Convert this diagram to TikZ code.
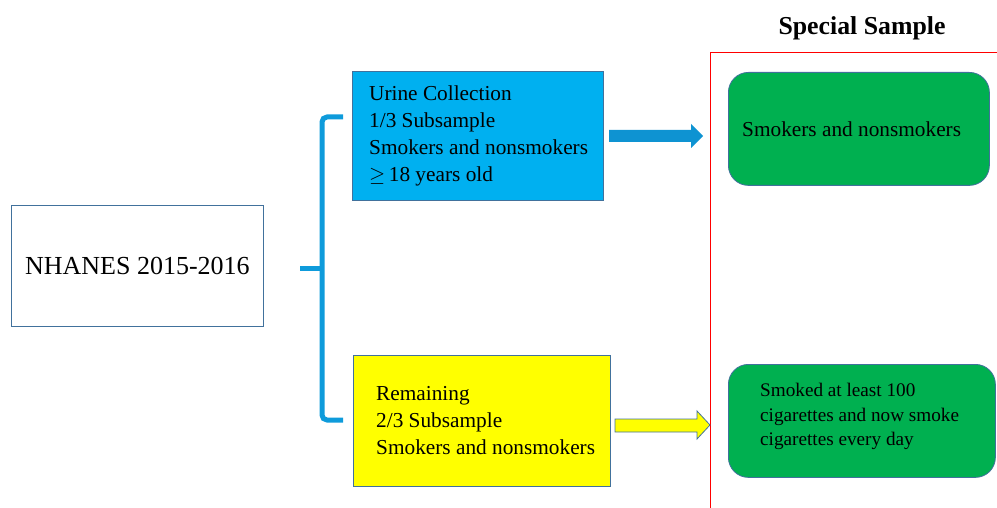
\documentclass[tikz,border=0pt]{standalone}
\usepackage{fontspec}
\setmainfont{Liberation Serif}
\begin{document}
\begin{tikzpicture}[x=1pt,y=-1pt,
  boxborder/.style={draw=boxline, line width=0.8pt},
  boxshape/.style={boxborder, anchor=north west, inner sep=0pt},
  boxtext/.style={anchor=west, align=left, inner sep=0pt, font=\fontsize{21.3}{27}\selectfont},
  bracestyle/.style={draw=bracecol, line width=5pt, rounded corners=5pt},
]
\definecolor{boxline}{HTML}{41719C}
\definecolor{bluefill}{HTML}{00B0F0}
\definecolor{bracecol}{HTML}{0E9BDB}
\definecolor{arrowblue}{HTML}{0E93D2}
\definecolor{greenfill}{HTML}{00B050}
\definecolor{yellowfill}{HTML}{FFFF00}
\useasboundingbox (0,0) rectangle (997,508);

% NHANES box
\node[boxshape, minimum width=252, minimum height=121,
      font=\fontsize{26}{30}\selectfont] (nh) at (11,205) {NHANES 2015-2016};

% blue box
\node[boxshape, fill=bluefill, minimum width=251, minimum height=129] (urine) at (352,71) {};
\node[boxtext] (urinetxt) at ([xshift=17pt]urine.west)
  {Urine Collection\\1/3 Subsample\\Smokers and nonsmokers\\$\geq$\,18 years old};

% yellow box
\node[boxshape, fill=yellowfill, minimum width=257, minimum height=131] (rem) at (353,355) {};
\node[boxtext] (remtxt) at ([xshift=23pt]rem.west)
  {Remaining\\2/3 Subsample\\Smokers and nonsmokers};

% brace
\coordinate (bt) at (343,117);
\coordinate (bb) at (343,420);
\coordinate (bm) at (300,268);
\draw[bracestyle] (bt) -- (322,117) -- (322,420) -- (bb);
\draw[draw=bracecol, line width=5pt] (bm) -- (323,268);

% red frame
\coordinate (rtop) at (997,52);
\coordinate (rcorner) at (710,52);
\coordinate (rbot) at (710,508);
\draw[red, line width=0.9pt] (rtop) -- (rcorner) -- (rbot);

% Special Sample
\node[anchor=base, font=\fontsize{25.8}{30}\selectfont\bfseries, inner sep=0pt] (ss) at (862,35) {Special Sample};

% green boxes
\node[boxshape, fill=greenfill, rounded corners=20pt, minimum width=261, minimum height=113] (g1) at (728,72) {};
\node[boxtext] (g1txt) at ([xshift=14pt]g1.west) {Smokers and nonsmokers};
\node[boxshape, fill=greenfill, rounded corners=20pt, minimum width=267, minimum height=113] (g2) at (728,364) {};
\node[boxtext, font=\fontsize{19.2}{24.5}\selectfont] (g2txt) at ([xshift=32pt,yshift=4pt]g2.west)
  {Smoked at least 100\\cigarettes and now smoke\\cigarettes every day};

% blue arrow
\fill[arrowblue] (609,130) -- (691,130) -- (691,124) -- (703,136) -- (691,148) -- (691,142) -- (609,142) -- cycle;
% yellow arrow
\filldraw[fill=yellowfill, draw=boxline, line width=0.8pt]
  (615,419) -- (697,419) -- (697,411) -- (710,425) -- (697,439) -- (697,432) -- (615,432) -- cycle;
\end{tikzpicture}
\end{document}
